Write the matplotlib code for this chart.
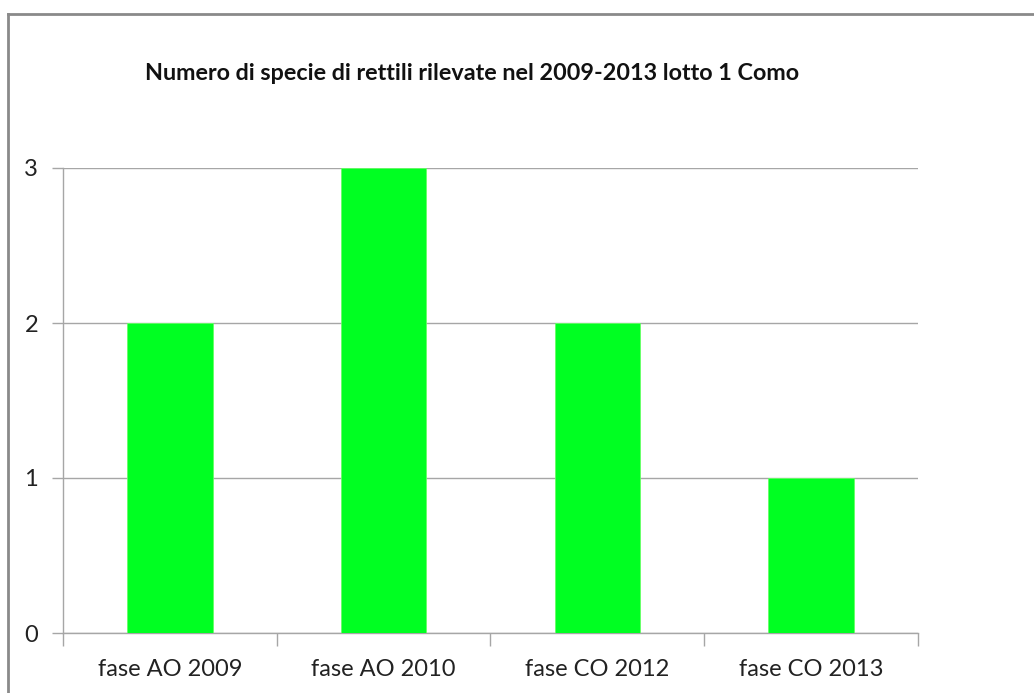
import matplotlib.pyplot as plt
from matplotlib.lines import Line2D

categories = ["fase AO 2009", "fase AO 2010", "fase CO 2012", "fase CO 2013"]
values = [2, 3, 2, 1]
title = "Numero di specie di rettili rilevate nel 2009-2013 lotto 1 Como"

plt.rcParams['font.family'] = ['Lato', 'DejaVu Sans']

fig = plt.figure(figsize=(10.34, 6.93), dpi=100)
ax = fig.add_axes([63 / 1034, 1 - 633 / 693, (918 - 63) / 1034, (633 - 168) / 693])

x = list(range(len(categories)))
ax.bar(x, values, width=0.4, color="#00ff22", edgecolor="#66ff66", linewidth=0.6, zorder=3)

ax.set_xlim(-0.5, len(categories) - 0.5)
ax.set_ylim(0, 3)
ax.set_yticks([0, 1, 2, 3])
ax.yaxis.grid(True, color="#a6a6a6", linewidth=1.0, zorder=0)

# category ticks sit between the bars, labels centred under them
ax.set_xticks([i - 0.5 for i in range(len(categories) + 1)])
ax.set_xticklabels([])
ax.set_xticks(x, minor=True)
ax.set_xticklabels(categories, minor=True)
ax.tick_params(axis="x", which="minor", length=0, pad=19, labelsize=17, labelcolor="#222222")
ax.tick_params(axis="x", which="major", length=9, color="#a6a6a6", width=1.0)
ax.tick_params(axis="y", length=8, color="#a6a6a6", width=1.0, pad=10, labelsize=17, labelcolor="#222222")

for s in ["top", "right"]:
    ax.spines[s].set_visible(False)
for s in ["left", "bottom"]:
    ax.spines[s].set_color("#a6a6a6")
    ax.spines[s].set_linewidth(1.0)

fig.text(472 / 1034, 1 - 73 / 693, title, ha="center", va="center",
         fontsize=16.8, fontweight="bold", color="#111111")

# chart area border (top and left visible in the reference)
fig.add_artist(Line2D([8 / 1034, 1.0], [1 - 14 / 693, 1 - 14 / 693], color="#8a8a8a", linewidth=2))
fig.add_artist(Line2D([8 / 1034, 8 / 1034], [0.0, 1 - 14 / 693], color="#8a8a8a", linewidth=2))

fig.savefig("out.png", dpi=100)
